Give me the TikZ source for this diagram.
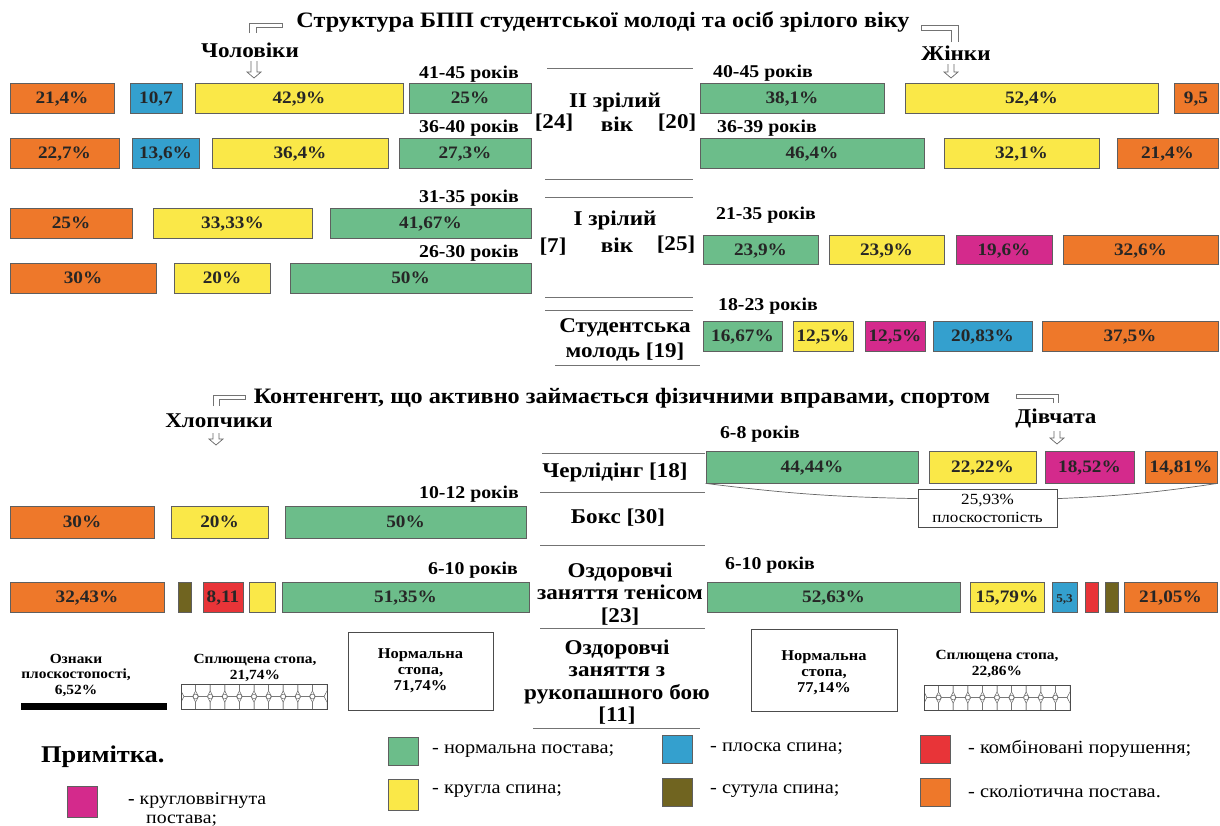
\documentclass[tikz,border=0pt]{standalone}
\usepackage{fontspec}
\setmainfont{Liberation Serif}[FakeStretch=1.1]
\usetikzlibrary{positioning}

\definecolor{normgreen}{RGB}{108,189,138}
\definecolor{roundyellow}{RGB}{250,232,72}
\definecolor{flatblue}{RGB}{52,160,206}
\definecolor{scolorange}{RGB}{238,120,42}
\definecolor{concmagenta}{RGB}{212,42,140}
\definecolor{stoopolive}{RGB}{112,100,32}
\definecolor{combred}{RGB}{232,52,56}
\definecolor{edgegray}{RGB}{95,95,95}

\tikzset{
  barnode/.style={draw=edgegray, line width=0.8pt, inner sep=0pt,
    text height=11.5pt, text depth=0pt,
    font=\bfseries\fontsize{17.5}{19}\selectfont, text=black!85},
  agelabel/.style={font=\bfseries\fontsize{18}{20}\selectfont, inner sep=0pt},
  grouplabel/.style={font=\bfseries\fontsize{21}{22.5}\selectfont, inner sep=0pt, align=center},
  sexlabel/.style={font=\bfseries\fontsize{21}{23}\selectfont, inner sep=0pt},
  headline/.style={font=\bfseries\fontsize{22}{24}\selectfont, inner sep=0pt},
  footbox/.style={draw=black!70, line width=0.8pt, inner sep=0pt},
  foottext/.style={font=\bfseries\fontsize{14}{15.5}\selectfont, inner sep=0pt, align=center},
  legtext/.style={font=\fontsize{18.5}{20}\selectfont, inner sep=0pt, anchor=west, align=left},
  legsquare/.style={draw=edgegray, line width=0.8pt, inner sep=0pt, minimum width=30pt, minimum height=28pt},
  rule/.style={draw=black!55, line width=0.9pt},
  bracketline/.style={draw=black!55, line width=0.8pt},
}

% box from x1 to x2, y1 to y2 (y counted downwards)
\newcommand{\barbox}[7]{%
  \node[barnode, fill=#6, minimum width=#3pt-#2pt, minimum height=#5pt-#4pt]
    (#1) at ({(#2+#3)/2},{(#4+#5)/2}) {#7};}

% hollow arrow pointing down
\newcommand{\hollowarrow}[3]{%
  \draw[black!60, line width=0.7pt] (#1-3,#2) -- (#1-3,#3-6) -- (#1-7,#3-6)
    -- (#1,#3) -- (#1+7,#3-6) -- (#1+3,#3-6) -- (#1+3,#2);}

% octagon pattern of the flat foot
\newcommand{\footpattern}[4]{%
  \begin{scope}
    \clip (#1,#2) rectangle (#3,#4);
    \pgfmathsetmacro\cw{(#3-#1)/10}
    \pgfmathsetmacro\hb{(#4-#2)/2}
    \foreach \i in {0,...,9} {
      \foreach \cy in {#2,#4} {
        \pgfmathsetmacro\cx{#1+(\i+0.5)*\cw}
        \draw[black!60, line width=0.5pt]
          (\cx+\cw/2,\cy-0.55*\hb) -- (\cx+\cw/2,\cy+0.55*\hb)
          -- (\cx+0.3*\cw,\cy+\hb) -- (\cx-0.3*\cw,\cy+\hb)
          -- (\cx-\cw/2,\cy+0.55*\hb) -- (\cx-\cw/2,\cy-0.55*\hb)
          -- (\cx-0.3*\cw,\cy-\hb) -- (\cx+0.3*\cw,\cy-\hb) -- cycle;
      }
    }
    \foreach \i in {1,...,9}
      \draw[black!60, line width=0.5pt, fill=white] ({#1+\i*\cw},{(#2+#4)/2}) circle (2.4);
  \end{scope}
  \draw[black!70, line width=0.8pt] (#1,#2) rectangle (#3,#4);}

\begin{document}
\begin{tikzpicture}[x=1pt, y=-1pt]
  \fill[white] (0,0) rectangle (1220,825);
  \useasboundingbox (0,0) rectangle (1220,825);

  % ---- headline 1
  \node[headline] (head1) at (603,22) {Структура БПП студентської молоді та осіб зрілого віку};
  \draw[bracketline] (249,33) -- (249,23) -- (282,23) -- (282,27) -- (256,27) -- (256,33);
  \draw[bracketline] (951,42) -- (951,30) -- (921,30) -- (921,25) -- (958,25) -- (958,42);
  \node[sexlabel] (men) at (250,50) {Чоловіки};
  \node[sexlabel] (women) at (956,53) {Жінки};
  \hollowarrow{254}{61}{78}
  \hollowarrow{951}{64}{78}

  % ---- centre column, top
  \draw[rule] (547,68) -- (693,68);
  \draw[rule] (545,179) -- (693,179);
  \draw[rule] (545,197) -- (693,197);
  \draw[rule] (545,297) -- (693,297);
  \draw[rule] (545,310) -- (693,310);
  \draw[rule] (555,365) -- (700,365);
  \node[grouplabel] (mat2) at (615,102) {II зрілий};
  \node[grouplabel] (mat2v) at (617,124) {вік};
  \node[grouplabel] (ref24) at (554,123) {[24]};
  \node[grouplabel] (ref20) at (677,123) {[20]};
  \node[grouplabel] (mat1) at (615,220) {I зрілий};
  \node[grouplabel] (mat1v) at (617,245) {вік};
  \node[grouplabel] (ref7) at (553,247) {[7]};
  \node[grouplabel] (ref25) at (676,245) {[25]};
  \node[grouplabel, font=\bfseries\fontsize{21}{25}\selectfont] (stud) at (625,340) {Студентська\\молодь [19]};

  % ---- men
  \node[agelabel] (ageM1) at (469,74) {41-45 років};
  \barbox{mA1}{10}{114}{83}{113}{scolorange}{21,4\%}
  \barbox{mA2}{130}{182}{83}{113}{flatblue}{10,7}
  \barbox{mA3}{195}{403}{83}{113}{roundyellow}{42,9\%}
  \barbox{mA4}{409}{531}{83}{113}{normgreen}{25\%}
  \node[agelabel] (ageM2) at (469,128) {36-40 років};
  \barbox{mB1}{10}{119}{138}{168}{scolorange}{22,7\%}
  \barbox{mB2}{132}{199}{138}{168}{flatblue}{13,6\%}
  \barbox{mB3}{212}{388}{138}{168}{roundyellow}{36,4\%}
  \barbox{mB4}{399}{531}{138}{168}{normgreen}{27,3\%}
  \node[agelabel] (ageM3) at (469,198) {31-35 років};
  \barbox{mC1}{10}{132}{208}{238}{scolorange}{25\%}
  \barbox{mC2}{153}{312}{208}{238}{roundyellow}{33,33\%}
  \barbox{mC3}{330}{531}{208}{238}{normgreen}{41,67\%}
  \node[agelabel] (ageM4) at (469,253) {26-30 років};
  \barbox{mD1}{10}{156}{263}{293}{scolorange}{30\%}
  \barbox{mD2}{174}{270}{263}{293}{roundyellow}{20\%}
  \barbox{mD3}{290}{531}{263}{293}{normgreen}{50\%}

  % ---- women
  \node[agelabel] (ageW1) at (763,73) {40-45 років};
  \barbox{wA1}{700}{884}{83}{113}{normgreen}{38,1\%}
  \barbox{wA2}{905}{1158}{83}{113}{roundyellow}{52,4\%}
  \barbox{wA3}{1174}{1218}{83}{113}{scolorange}{9,5}
  \node[agelabel] (ageW2) at (767,128) {36-39 років};
  \barbox{wB1}{700}{924}{138}{168}{normgreen}{46,4\%}
  \barbox{wB2}{944}{1099}{138}{168}{roundyellow}{32,1\%}
  \barbox{wB3}{1117}{1218}{138}{168}{scolorange}{21,4\%}
  \node[agelabel] (ageW3) at (766,215) {21-35 років};
  \barbox{wC1}{703}{818}{235}{264}{normgreen}{23,9\%}
  \barbox{wC2}{829}{944}{235}{264}{roundyellow}{23,9\%}
  \barbox{wC3}{956}{1052}{235}{264}{concmagenta}{19,6\%}
  \barbox{wC4}{1063}{1218}{235}{264}{scolorange}{32,6\%}
  \node[agelabel] (ageW4) at (768,306) {18-23 років};
  \barbox{wD1}{703}{782}{321}{351}{normgreen}{16,67\%}
  \barbox{wD2}{793}{853}{321}{351}{roundyellow}{12,5\%}
  \barbox{wD3}{865}{925}{321}{351}{concmagenta}{12,5\%}
  \barbox{wD4}{933}{1032}{321}{351}{flatblue}{20,83\%}
  \barbox{wD5}{1042}{1218}{321}{351}{scolorange}{37,5\%}

  % ---- headline 2
  \node[headline] (head2) at (622,398) {Контенгент, що активно займається фізичними вправами, спортом};
  \draw[bracketline] (213,406) -- (213,395) -- (245,395) -- (245,399) -- (219,399) -- (219,406);
  \draw[bracketline] (1053,403) -- (1053,398) -- (1016,398) -- (1016,394) -- (1058,394) -- (1058,403);
  \node[sexlabel] (boys) at (219,421) {Хлопчики};
  \node[sexlabel] (girls) at (1056,418) {Дівчата};
  \hollowarrow{216}{433}{445}
  \hollowarrow{1057}{431}{444}

  % ---- centre column, bottom
  \draw[rule] (542,453) -- (705,453);
  \draw[rule] (540,492) -- (705,492);
  \draw[rule] (540,545) -- (705,545);
  \draw[rule] (540,628) -- (705,628);
  \draw[rule] (533,728) -- (700,728);
  \node[grouplabel] (cheer) at (615,472) {Черлідінг [18]};
  \node[grouplabel] (boxing) at (618,518) {Бокс [30]};
  \node[grouplabel] (tennis) at (620,594) {Оздоровчі\\заняття тенісом\\{[23]}};
  \node[grouplabel] (combat) at (617,682) {Оздоровчі\\заняття з\\рукопашного бою\\{[11]}};

  % ---- cheerleading, girls
  \node[agelabel] (ageG1) at (760,434) {6-8 років};
  \barbox{gA1}{706}{918}{451}{483}{normgreen}{44,44\%}
  \barbox{gA2}{929}{1036}{451}{483}{roundyellow}{22,22\%}
  \barbox{gA3}{1045}{1134}{451}{483}{concmagenta}{18,52\%}
  \barbox{gA4}{1145}{1217}{451}{483}{scolorange}{14,81\%}
  \node[footbox, minimum width=139pt, minimum height=38pt, font=\fontsize{15.5}{18}\selectfont, align=center]
    (plos) at (987.5,508) {25,93\%\\плоскостопість};
  \draw[black!60, line width=0.7pt] (gA1.south west) to[bend right=3] ([yshift=-10pt]plos.north west);
  \draw[black!60, line width=0.7pt] ([yshift=-10pt]plos.north east) to[bend right=3] (gA4.south east);

  % ---- boxing, boys
  \node[agelabel] (ageB1) at (469,494) {10-12 років};
  \barbox{bA1}{10}{154}{506}{538}{scolorange}{30\%}
  \barbox{bA2}{171}{268}{506}{538}{roundyellow}{20\%}
  \barbox{bA3}{285}{526}{506}{538}{normgreen}{50\%}

  % ---- tennis
  \node[agelabel] (ageB2) at (473,570) {6-10 років};
  \barbox{bB1}{10}{164}{582}{612}{scolorange}{32,43\%}
  \barbox{bB2}{178}{191}{582}{612}{stoopolive}{}
  \barbox{bB3}{203}{243}{582}{612}{combred}{8,11}
  \barbox{bB4}{249}{275}{582}{612}{roundyellow}{}
  \barbox{bB5}{282}{529}{582}{612}{normgreen}{51,35\%}
  \node[agelabel] (ageG2) at (770,565) {6-10 років};
  \barbox{gB1}{707}{960}{582}{612}{normgreen}{52,63\%}
  \barbox{gB2}{970}{1044}{582}{612}{roundyellow}{15,79\%}
  \barbox{gB3}{1052}{1077}{582}{612}{flatblue}{\fontsize{12}{13}\selectfont 5,3}
  \barbox{gB4}{1085}{1098}{582}{612}{combred}{}
  \barbox{gB5}{1105}{1118}{582}{612}{stoopolive}{}
  \barbox{gB6}{1124}{1217}{582}{612}{scolorange}{21,05\%}

  % ---- hand-to-hand combat, feet
  \node[foottext] (signsL) at (76,675) {Ознаки\\плоскостопості,\\6,52\%};
  \fill[black] (21,703) rectangle (167,710);
  \node[foottext] (flatL) at (255,668) {Сплющена стопа,\\21,74\%};
  \footpattern{181}{684}{327}{709}
  \node[footbox, minimum width=145pt, minimum height=78pt] (normL) at (420.5,671) {};
  \node[foottext, font=\bfseries\fontsize{15}{16}\selectfont] at (normL) {Нормальна\\стопа,\\71,74\%};
  \node[footbox, minimum width=146pt, minimum height=82pt] (normR) at (824,670) {};
  \node[foottext, font=\bfseries\fontsize{15}{16}\selectfont] at ([yshift=-3pt]normR) {Нормальна\\стопа,\\77,14\%};
  \node[foottext] (flatR) at (997,664) {Сплющена стопа,\\22,86\%};
  \footpattern{924}{685}{1070}{710}

  % ---- legend
  \node[font=\bfseries\fontsize{24}{26}\selectfont, inner sep=0pt, anchor=west] (note) at (41,757) {Примітка.};
  \node[legsquare, fill=concmagenta, minimum height=31pt] (sqMag) at (82.5,802) {};
  \node[legtext, font=\fontsize{18}{19}\selectfont] (txMag) at (128,809) {\textbf{-} кругловвігнута\\\hspace*{18pt}постава;};
  \node[legsquare, fill=normgreen] (sqGreen) at (403,751) {};
  \node[legtext] (txGreen) at (432,751) {- нормальна постава;};
  \node[legsquare, fill=roundyellow, minimum height=31pt] (sqYellow) at (403,795) {};
  \node[legtext] (txYellow) at (432,791) {- кругла спина;};
  \node[legsquare, fill=flatblue] (sqBlue) at (677,749) {};
  \node[legtext] (txBlue) at (710,749) {- плоска спина;};
  \node[legsquare, fill=stoopolive] (sqOlive) at (677,792) {};
  \node[legtext] (txOlive) at (710,791) {- сутула спина;};
  \node[legsquare, fill=combred] (sqRed) at (935,749) {};
  \node[legtext] (txRed) at (968,749) {- комбіновані порушення;};
  \node[legsquare, fill=scolorange] (sqOrange) at (935,792) {};
  \node[legtext] (txOrange) at (968,791) {- сколіотична постава.};
\end{tikzpicture}
\end{document}
